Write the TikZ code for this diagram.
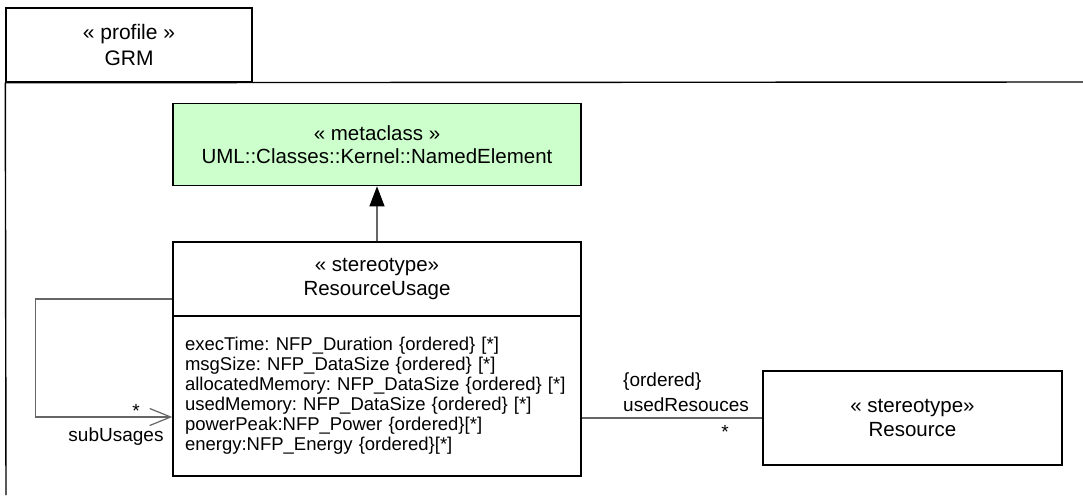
\documentclass[tikz,border=0pt]{standalone}
\usepackage{fontspec}
\setmainfont{Liberation Sans}
\usetikzlibrary{arrows.meta,positioning,calc}
\definecolor{metagreen}{HTML}{CCFFCC}
\definecolor{linkgray}{HTML}{666666}
\frenchspacing

\begin{document}
\begin{tikzpicture}[
    x=1pt, y=-1pt,
    umlclass/.style={
      rectangle, draw=black, line width=1.4pt, fill=white,
      minimum width=408pt, align=center, inner sep=0pt,
      font=\fontsize{20.5}{23.5}\selectfont
    },
    umlmeta/.style={
      umlclass, fill=metagreen, minimum height=82pt
    },
    umlattrs/.style={
      rectangle, draw=black, line width=1.4pt, fill=white,
      minimum width=408pt, minimum height=160pt, text width=384pt,
      inner xsep=12pt, inner ysep=0pt, align=left,
      font=\fontsize{18.5}{20}\selectfont
    },
    tabbox/.style={
      rectangle, draw=black, line width=1.4pt,
      minimum width=246pt, minimum height=74pt, align=center,
      font=\fontsize{21}{26}\selectfont
    },
    frame_line/.style={
      line width=1.4pt, black
    },
    edge_gen/.style={
      -{Triangle[length=20pt,width=15pt,color=black]}, line width=1.2pt, linkgray
    },
    edge_assoc/.style={
      line width=1.2pt, linkgray
    },
    label_style/.style={
      font=\fontsize{19}{20}\selectfont, inner sep=0pt
    }
  ]
  \useasboundingbox (0,0) rectangle (1083,495);

  % --- profile frame ---
  \node[tabbox] (tab) at (129,45) {« profile »\\GRM};
  \draw[frame_line] (tab.south west) -- (6,495);
  \draw[frame_line] (tab.south west) -- (1083,82);

  % --- classes ---
  \node[umlclass, minimum height=74pt] (ruhead) at (377,279)
    {« stereotype»\\ResourceUsage};
  \node[umlattrs, below=-1.4pt of ruhead] (ruattr)
    {execTime: NFP\_Duration \{ordered\} [*]\\
     msgSize: NFP\_DataSize \{ordered\} [*]\\
     allocatedMemory: NFP\_DataSize \{ordered\} [*]\\
     usedMemory: NFP\_DataSize \{ordered\} [*]\\
     powerPeak:NFP\_Power \{ordered\}[*]\\
     energy:NFP\_Energy \{ordered\}[*]};
  \node[umlmeta, above=55pt of ruhead] (meta)
    {« metaclass »\\UML::Classes::Kernel::NamedElement};
  \node[umlclass, minimum width=299pt, minimum height=94pt] (res) at (912.5,418)
    {« stereotype»\\Resource};

  \draw[edge_gen] (ruhead.north) -- (meta.south);

  % --- associations ---
  \draw[edge_assoc, -{Straight Barb[length=21pt,width=17pt]}]
    ([yshift=-20pt]ruhead.west) -- ++(-137,0) |- ([yshift=-21pt]ruattr.west);
  \node[label_style] (multsub) at (136,411) {*};
  \node[label_style] (rolesub) at (116,437) {subUsages};

  \draw[edge_assoc] (ruattr.east |- res.west) -- (res.west);
  \node[label_style, anchor=west] (ordlbl) at (623,382) {\{ordered\}};
  \node[label_style, anchor=west] (rolelbl) at (623,405) {usedResouces};
  \node[label_style] (multres) at (725,432) {*};
\end{tikzpicture}
\end{document}
